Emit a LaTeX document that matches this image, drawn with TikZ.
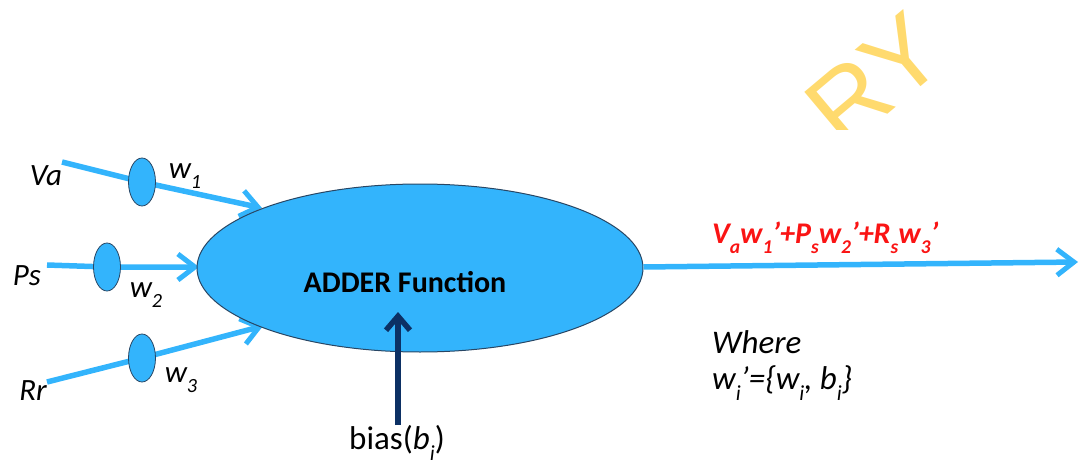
\documentclass[tikz,border=0pt]{standalone}
\usepackage{fontspec}
\setmainfont{Carlito}
\newfontfamily\wmfont{Liberation Sans}
\usetikzlibrary{arrows.meta,backgrounds,shapes.geometric}
\definecolor{nblue}{RGB}{51,180,252}
\definecolor{nedge}{RGB}{40,70,100}
\definecolor{navy}{RGB}{12,48,100}
\definecolor{wmyellow}{RGB}{255,218,110}
\definecolor{fred}{RGB}{250,20,20}
\newcommand{\sbs}[1]{\raisebox{-0.32em}{\fontsize{0.65em}{0.7em}\selectfont #1}}
\begin{document}
\begin{tikzpicture}[x=1pt,y=-1pt,
  inarrow/.style={draw=nblue,line width=5.5pt,-{Straight Barb[length=17pt,width=26pt,line width=5pt]}},
  biasarrow/.style={draw=navy,line width=5.5pt,-{Straight Barb[length=14pt,width=24pt,line width=5.5pt]}},
  weight/.style={ellipse,draw=nedge,line width=0.8pt,fill=nblue,minimum width=27pt,minimum height=48pt,inner sep=0pt},
  lbl/.style={inner sep=0pt,font=\fontsize{31}{35}\selectfont\itshape}
]
\useasboundingbox (0,0) rectangle (1086,468);
% watermark
\begin{scope}
\clip (700,0) rectangle (1000,130);
\node[text=wmyellow,rotate=40,inner sep=0pt,font=\wmfont\fontsize{102}{110}\selectfont] (wm) at (874,80) {RY};
\end{scope}
% main ellipse
\node[ellipse,draw=nedge,line width=1pt,fill=nblue,minimum width=446pt,minimum height=168pt,inner sep=0pt] (adder) at (420,268) {};
\node[inner sep=0pt,font=\fontsize{30}{33}\selectfont\bfseries] (addertxt) at (405,282) {ADDER Function};
% inputs
\node[lbl] (va) at (46,176) {Va};
\node[lbl] (ps) at (27,276) {Ps};
\node[lbl] (rr) at (33,391) {Rr};
\coordinate (s1) at (62,162);
\coordinate (s2) at (47,265);
\coordinate (s3) at (47,382);
\coordinate (t1) at (262,208);
\coordinate (t2) at (199,267);
\coordinate (t3) at (263,326);
\node[weight] (e1) at (142,182) {};
\node[weight] (e2) at (107,267) {};
\node[weight] (e3) at (142,358) {};
\begin{scope}[on background layer]
\draw[inarrow] (s1) -- (e1.center) -- (t1);
\draw[inarrow] (s2) -- (e2.center) -- (t2);
\draw[inarrow] (s3) -- (e3.center) -- (t3);
\end{scope}
\node[lbl] (w1) at (185,176) {w\sbs{1}};
\node[lbl] (w2) at (146,295) {w\sbs{2}};
\node[lbl] (w3) at (181,380) {w\sbs{3}};
% bias
\coordinate (bstart) at (398,425);
\coordinate (btip) at (398,312);
\draw[biasarrow] (bstart) -- (btip);
\node[inner sep=0pt,font=\fontsize{33}{36}\selectfont] (bias) at (397,443) {bias(\textit{b\sbs{i}})};
% output
\coordinate (out) at (1078,262);
\draw[inarrow] (adder.east) ++(0,-1) coordinate (ostart) -- (out);
\node[inner sep=0pt,anchor=west,text=fred,font=\fontsize{30}{33}\selectfont\bfseries\itshape] (formula) at (712,238) {V\sbs{a}w\sbs{1}’+P\sbs{s}w\sbs{2}’+R\sbs{s}w\sbs{3}’};
\node[inner sep=0pt,anchor=west,font=\fontsize{33}{36}\selectfont\itshape] (where) at (712,342) {Where};
\node[inner sep=0pt,anchor=west,font=\fontsize{33}{36}\selectfont\itshape] (wdef) at (712,383) {w\sbs{i}’=\{w\sbs{i}, b\sbs{i}\}};
\end{tikzpicture}
\end{document}
